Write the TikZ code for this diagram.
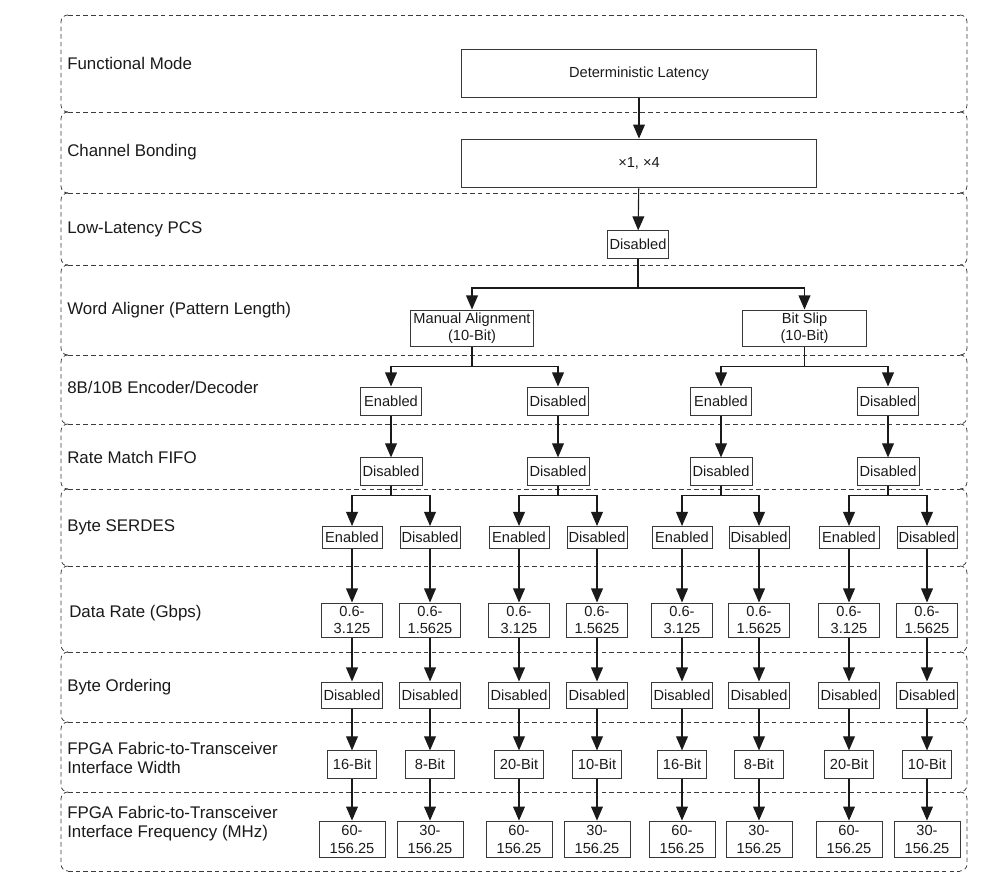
\documentclass[tikz,border=0pt]{standalone}
\usepackage{fontspec}
\setmainfont{Liberation Sans}
\usepackage{tikz}
\usetikzlibrary{arrows.meta,positioning}
\definecolor{ink}{HTML}{1A1A1A}
\definecolor{boxbd}{HTML}{383838}
\definecolor{bandbd}{HTML}{3C3C3C}
\tikzset{
  band/.style={draw=bandbd,line width=0.55pt,dash pattern=on 3.2pt off 2.3pt,
               rounded corners=4.9pt},
  rowlabel/.style={anchor=west,inner sep=0pt,align=left,text=ink,
                   font=\fontsize{12}{13.5}\selectfont},
  opt/.style={draw=boxbd,line width=0.7pt,inner sep=1pt,align=center,text=ink,
              font=\fontsize{10.4}{12.2}\selectfont},
  flow/.style={-{Triangle[length=10pt,width=8.4pt]},line width=0.8pt,ink},
  tie/.style={line width=0.8pt,ink},
}

\begin{document}
\begin{tikzpicture}[x=0.025cm,y=-0.025cm]
  \useasboundingbox (0,0) rectangle (1005,884);
  % dashed row bands
  \foreach \ya/\yb in {15/112,112/193,193/265,265/355,355/424,424/489,
                       489/566,566/652,652/722,722/792,792/871}{
    \draw[band] (68,\ya) -- (61,\ya) -- (61,\yb) -- (68,\yb);
    \draw[band] (960,\ya) -- (967,\ya) -- (967,\yb) -- (960,\yb);
  }
  \foreach \y in {15,112,193,265,355,424,489,566,652,722,792,871}
    \draw[band] (68,\y) -- (960,\y);

  % row names
  \node[rowlabel] (lmode)   at (67,63.5)  {Functional Mode};
  \node[rowlabel] (lbond)   at (67,152.5) {Channel Bonding};
  \node[rowlabel] (lpcs)    at (67,229)   {Low-Latency PCS};
  \node[rowlabel] (lalign)  at (67,310)   {Word Aligner (Pattern Length)};
  \node[rowlabel] (lcodec)  at (67,387)   {8B/10B Encoder/Decoder};
  \node[rowlabel] (lrm)     at (67,457)   {Rate Match FIFO};
  \node[rowlabel] (lserdes) at (67,527)   {Byte SERDES};
  \node[rowlabel] (lrate)   at (69,613.5) {Data Rate (Gbps)};
  \node[rowlabel] (lorder)  at (67,687)   {Byte Ordering};
  \node[rowlabel] (lwidth)  at (67,757.5) {FPGA Fabric-to-Transceiver\\Interface Width};
  \node[rowlabel] (lfreq)   at (67,824)   {FPGA Fabric-to-Transceiver\\Interface Frequency (MHz)};

  % upper part of the tree
  \node[opt,minimum width=8.85cm,minimum height=1.22cm] (mode) at (639,73.5) {Deterministic Latency};
  \node[opt,minimum width=8.85cm,minimum height=1.22cm] (bond) at (639,163.5) {×1, ×4};
  \node[opt,minimum width=1.52cm,minimum height=0.68cm] (pcs) at (638,244.5) {Disabled};
  \node[opt,minimum width=3.05cm,minimum height=0.9cm] (manual) at (472,328) {Manual Alignment\\(10-Bit)};
  \node[opt,minimum width=3.08cm,minimum height=0.9cm] (bitslip) at (804.5,328) {Bit Slip\\(10-Bit)};
  \foreach \i/\x/\st in {1/391/Enabled,2/558/Disabled,3/721/Enabled,4/888/Disabled}{
    \node[opt,minimum width=1.52cm,minimum height=0.7cm] (codec\i) at (\x,401) {\st};
    \node[opt,minimum width=1.55cm,minimum height=0.68cm] (rm\i) at (\x,471.5) {Disabled};
  }

  % eight leaf columns
  \foreach \i/\x/\st/\rate/\w/\f in {
    1/352/Enabled/3.125/16/60, 2/430/Disabled/1.5625/8/30,
    3/519/Enabled/3.125/20/60, 4/597/Disabled/1.5625/10/30,
    5/682/Enabled/3.125/16/60, 6/759/Disabled/1.5625/8/30,
    7/849/Enabled/3.125/20/60, 8/927/Disabled/1.5625/10/30%
  }{
    \node[opt,minimum width=1.5cm,minimum height=0.55cm] (ser\i) at (\x,537.5) {\st};
    \node[opt,minimum width=1.52cm,minimum height=0.85cm] (rate\i) at (\x,620) {0.6-\\\rate};
    \node[opt,minimum width=1.52cm,minimum height=0.65cm] (order\i) at (\x,695) {Disabled};
    \node[opt,minimum width=1.22cm,minimum height=0.68cm] (width\i) at (\x,764.5) {\w-Bit};
    \node[opt,minimum width=1.65cm,minimum height=0.92cm] (freq\i) at (\x,839.5) {\f-\\156.25};
  }

  % connectors
  \draw[flow] (mode) -- (bond);
  \draw[flow] (bond) -- (pcs);
  \coordinate (forkA) at (638,288);
  \draw[tie] (pcs) -- (forkA);
  \draw[flow] (forkA) -| (manual);
  \draw[flow] (forkA) -| (bitslip);
  \foreach \w/\a/\b in {manual/1/2,bitslip/3/4}{
    \path (\w.south) ++(0,20) coordinate (fork-\w);
    \draw[tie] (\w) -- (fork-\w);
    \draw[flow] (fork-\w) -| (codec\a);
    \draw[flow] (fork-\w) -| (codec\b);
  }
  \foreach \i/\a/\b in {1/1/2,2/3/4,3/5/6,4/7/8}{
    \draw[flow] (codec\i) -- (rm\i);
    \path (rm\i.south) ++(0,10) coordinate (forkC\i);
    \draw[tie] (rm\i) -- (forkC\i);
    \draw[flow] (forkC\i) -| (ser\a);
    \draw[flow] (forkC\i) -| (ser\b);
  }
  \foreach \i in {1,...,8}{
    \draw[flow] (ser\i) -- (rate\i);
    \draw[flow] (rate\i) -- (order\i);
    \draw[flow] (order\i) -- (width\i);
    \draw[flow] (width\i) -- (freq\i);
  }
\end{tikzpicture}
\end{document}
